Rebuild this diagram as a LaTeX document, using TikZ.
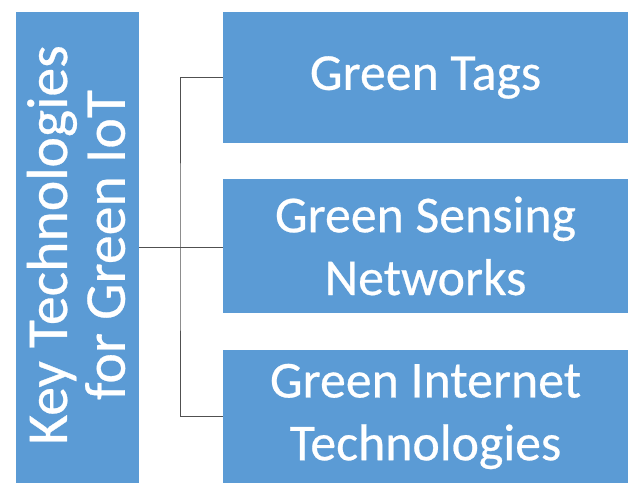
\documentclass[tikz,border=0pt]{standalone}
\usepackage{fontspec}
\setmainfont{Carlito}
\newfontfamily\thickfont{Carlito}[UprightFeatures={FakeBold=0.5}]
\definecolor{boxblue}{HTML}{5B9BD5}
\definecolor{linegray}{HTML}{505050}
\tikzset{
  box/.style={fill=boxblue, draw=none, text=white, align=center, inner sep=0pt, font=\thickfont\fontsize{52}{63}\selectfont},
  conn/.style={draw=linegray, line width=0.9bp}
}
\begin{document}
\begin{tikzpicture}[x=1bp,y=-1bp]
\useasboundingbox[fill=white] (0,0) rectangle (631,483);
\node[box, minimum width=123bp, minimum height=471bp] (key) at (77.5,247.5) {};
\node[box, rotate=90, font=\thickfont\fontsize{58}{58}\selectfont] (keyt) at (76,245) {Key Technologies\\for Green IoT};
\node[box, minimum width=405bp, minimum height=131bp] (tags) at (425.5,77.5) {Green Tags};
\node[box, minimum width=405bp, minimum height=134bp] (sens) at (425.5,246) {Green Sensing\\Networks};
\node[box, minimum width=405bp, minimum height=133bp] (inet) at (425.5,416.5) {Green Internet\\Technologies};
\coordinate (j) at (180,247);
\draw[conn] (key.east |- j) -- (j);
\draw[conn] (tags.west) -| (j) |- (inet.west);
\draw[conn] (j) -- (sens.west |- j);
\end{tikzpicture}
\end{document}
